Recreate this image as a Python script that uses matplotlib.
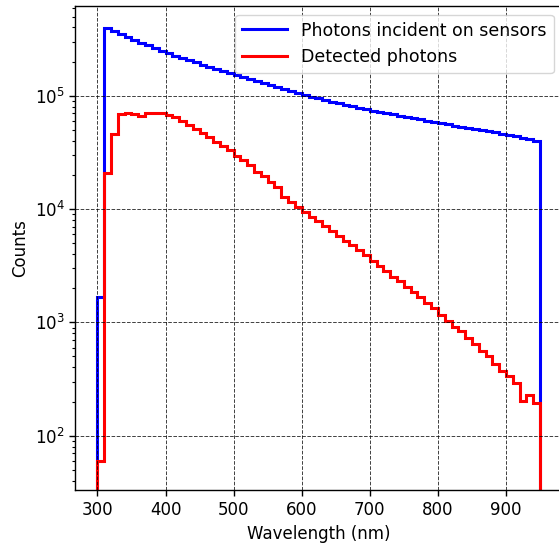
import numpy as np
import matplotlib
matplotlib.use('Agg')
import matplotlib.pyplot as plt

plt.rcParams['font.size'] = 12
plt.rcParams['axes.linewidth'] = 1.0
plt.rcParams['xtick.major.size'] = 4.2
plt.rcParams['ytick.major.size'] = 4.2
plt.rcParams['ytick.minor.size'] = 2.4
plt.rcParams['xtick.major.width'] = 1.0
plt.rcParams['ytick.major.width'] = 1.0
plt.rcParams['ytick.minor.width'] = 0.8

# 10 nm wavelength bins, 300-950 nm
bin_edges = np.arange(300, 951, 10)

# photons reaching the sensors, per bin
incident = [
    1680, 393000, 370000, 348000, 329000, 310000, 294000, 278000, 264000, 250000,
    238000, 226000, 216000, 207000, 197000, 188000, 180000, 173000, 165000, 158000,
    152000, 146000, 140000, 134000, 129000, 124000, 119000, 114000, 110000, 105000,
    101000, 98000, 94900, 91800, 88900, 86100, 83600, 80900, 78500, 76000,
    73800, 71900, 70100, 68400, 66700, 65000, 63400, 61800, 60100, 58600,
    57100, 55800, 54600, 53300, 52000, 50800, 49700, 48500, 47400, 46200,
    45200, 43900, 42500, 41200, 40000,
]

# photons actually detected, per bin
detected = [
    60, 20900, 46000, 68500, 70000, 69000, 66000, 70000, 71000, 71000,
    68000, 64500, 60000, 55000, 50500, 46600, 43000, 39300, 36200, 33100,
    29500, 26900, 24500, 21400, 19500, 17400, 15600, 12900, 11500, 10500,
    9460, 8500, 7800, 7100, 6450, 5750, 5250, 4800, 4350, 3930,
    3480, 3160, 2820, 2500, 2300, 2050, 1860, 1660, 1480, 1330,
    1160, 1020, 912, 832, 724, 645, 562, 501, 427, 372,
    335, 289, 202, 228, 195,
]

fig = plt.figure(figsize=(5.59, 5.43), dpi=100)
ax = fig.add_axes((0.1347, 0.0971, 0.871, 0.892))

ax.stairs(incident, bin_edges, baseline=1, color='blue', linewidth=2.2,
          label='Photons incident on sensors')
ax.stairs(detected, bin_edges, baseline=1, color='red', linewidth=2.2,
          label='Detected photons')

ax.set_yscale('log')
ax.set_xlim(267.5, 982.5)
ax.set_ylim(33, 6.2e5)
ax.set_xticks([300, 400, 500, 600, 700, 800, 900])
ax.set_xlabel('Wavelength (nm)')
ax.set_ylabel('Counts')
ax.grid(True, which='major', linestyle='--', color='black', linewidth=0.7, alpha=0.75)
ax.legend(loc='upper right', fontsize=12.5, handlelength=2.6)

fig.savefig('out.png', dpi=100)
